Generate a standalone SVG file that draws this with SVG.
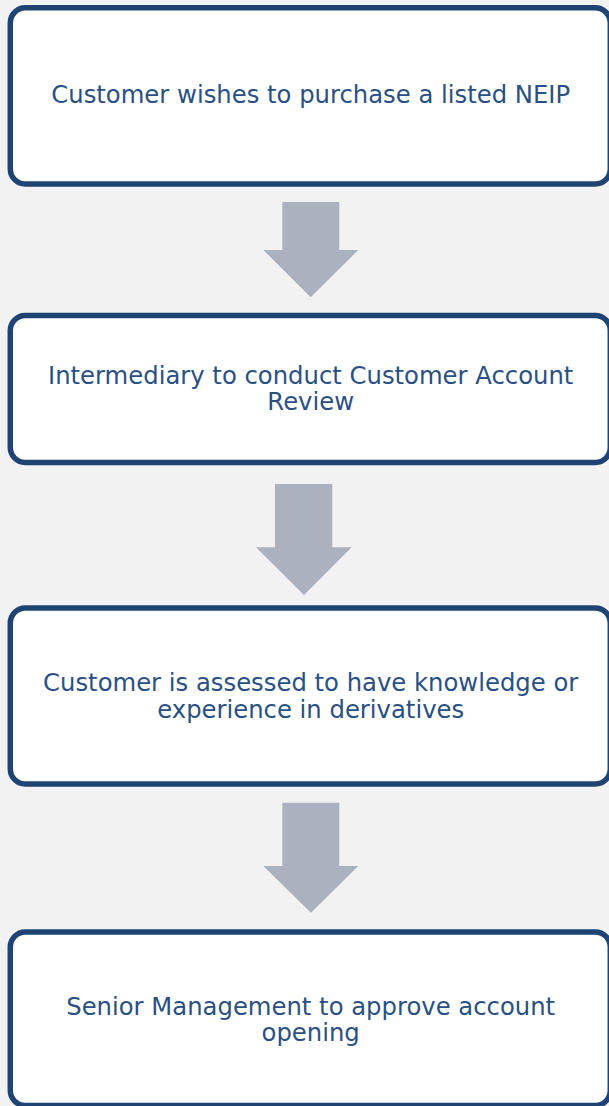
<svg xmlns="http://www.w3.org/2000/svg" width="609" height="1106" viewBox="0 0 609 1106">
<style>
.box{fill:#ffffff;stroke:#1f4473;stroke-width:5.5}
.lbl{font-family:"DejaVu Sans","Liberation Sans",sans-serif;font-size:24.3px;fill:#2a5083;text-anchor:middle}
.arr{fill:#abb1bf}
</style>
<rect x="0" y="0" width="609" height="1106" fill="#f2f2f2"/>
<g id="connectors">
<polygon class="arr" points="282.3,202 339.3,202 339.3,250 358.3,250 310.7,297.3 263.3,250 282.3,250"/>
<polygon class="arr" points="275,484 332.3,484 332.3,547.3 351.7,547.3 304,595 256,547.3 275,547.3"/>
<polygon class="arr" points="282.3,802.7 339.3,802.7 339.3,866 358.3,866 311,912.7 263.3,866 282.3,866"/>
</g>
<g id="node1">
<rect class="box" x="10.3" y="7.8" width="600" height="176.2" rx="15" ry="15"/>
<text class="lbl" x="310.7" y="102.7">Customer wishes to purchase a listed NEIP</text>
</g>
<g id="node2">
<rect class="box" x="10.3" y="315.5" width="600" height="147" rx="15" ry="15"/>
<text class="lbl" x="310.7" y="383.8">Intermediary to conduct Customer Account</text>
<text class="lbl" x="310.7" y="410.3">Review</text>
</g>
<g id="node3">
<rect class="box" x="10.3" y="608" width="600" height="176" rx="15" ry="15"/>
<text class="lbl" x="310.7" y="690.5">Customer is assessed to have knowledge or</text>
<text class="lbl" x="310.7" y="717.5">experience in derivatives</text>
</g>
<g id="node4">
<rect class="box" x="10.3" y="932" width="600" height="173.5" rx="15" ry="15"/>
<text class="lbl" x="310.7" y="1015">Senior Management to approve account</text>
<text class="lbl" x="310.7" y="1041">opening</text>
</g>
</svg>
